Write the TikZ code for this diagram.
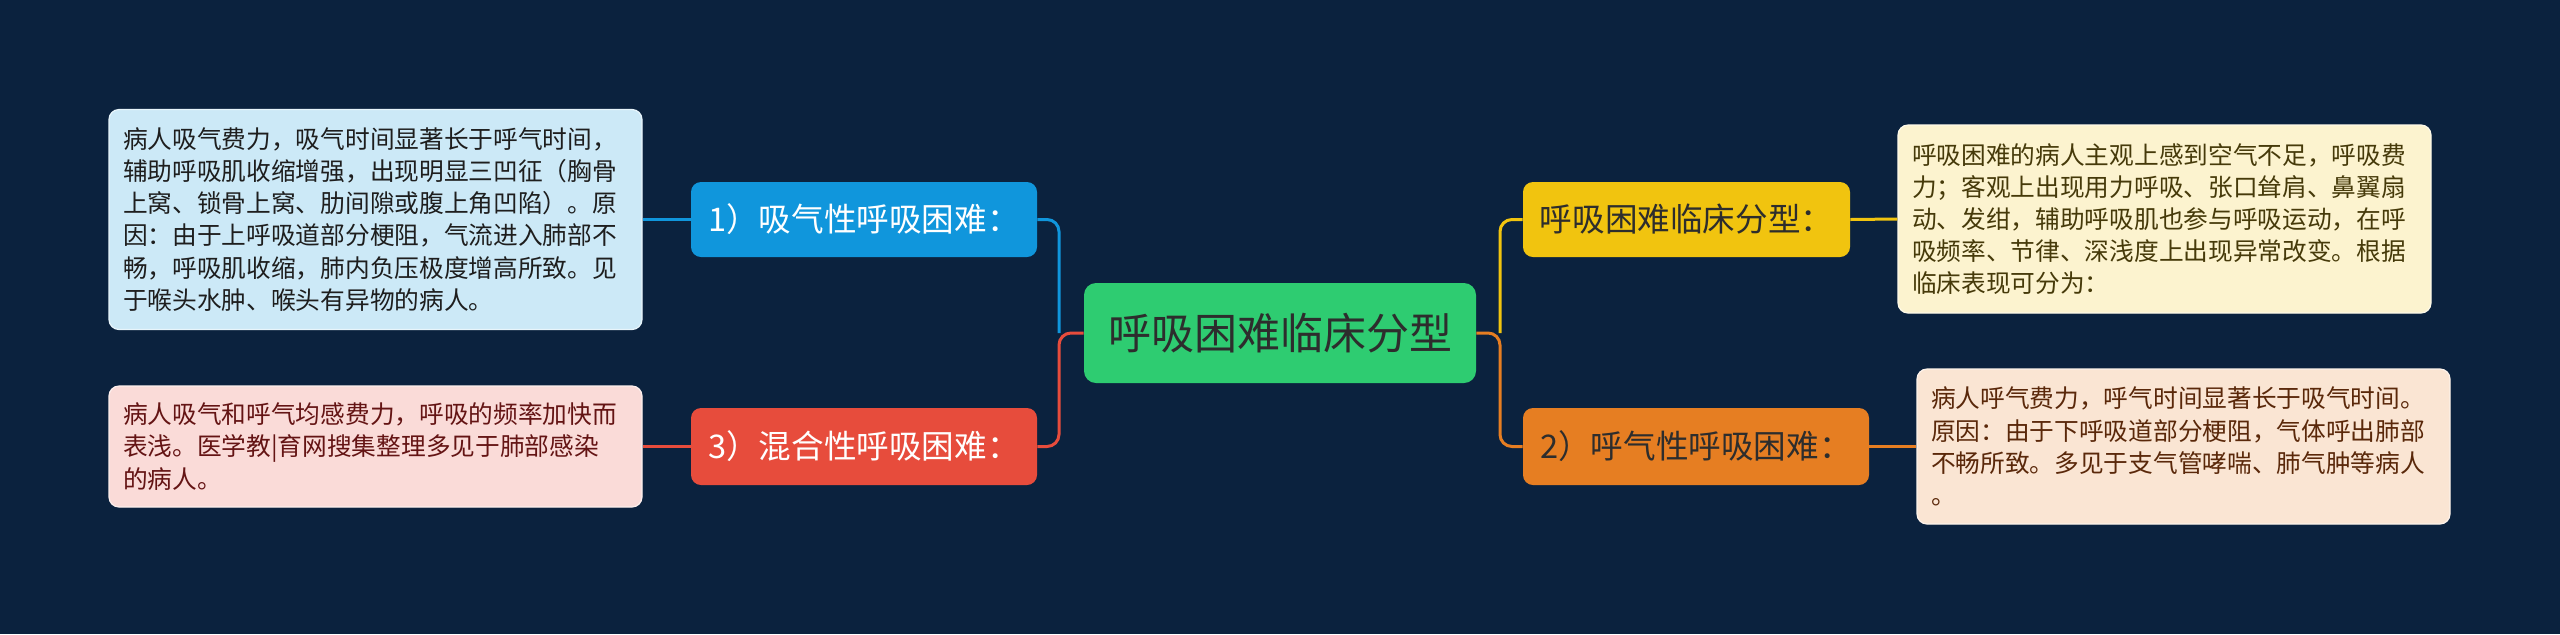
\documentclass[tikz,border=0pt]{standalone}
\usepackage{fontspec}
\setmainfont{Noto Sans CJK SC}
\definecolor{bg}{RGB}{11,34,62}
\definecolor{cblue}{RGB}{16,150,220}
\definecolor{cred}{RGB}{231,76,60}
\definecolor{cgreen}{RGB}{46,204,113}
\definecolor{cyellow}{RGB}{241,196,15}
\definecolor{corange}{RGB}{230,126,34}
\definecolor{fblue}{RGB}{204,233,247}
\definecolor{fred}{RGB}{250,219,216}
\definecolor{fyellow}{RGB}{252,243,207}
\definecolor{forange}{RGB}{250,229,211}
\definecolor{tblue}{RGB}{30,30,30}
\definecolor{tred}{RGB}{100,20,20}
\definecolor{tyellow}{RGB}{70,58,10}
\definecolor{torange}{RGB}{90,40,10}
\definecolor{tdark}{RGB}{45,45,45}
\tikzset{
  lab/.style={rounded corners=5pt, inner sep=0pt, minimum height=37.5pt, align=center,
    font=\fontsize{16.3}{20}\selectfont},
  root/.style={rounded corners=6pt, inner sep=0pt, minimum width=196pt, minimum height=50pt,
    fill=cgreen, text=tdark, font=\fontsize{21.5}{26}\selectfont},
  tbox/.style={rounded corners=5pt, inner xsep=7pt, inner ysep=0pt, text width=252.5pt,
    align=left, line width=0.6pt, font=\fontsize{12.35}{16.1}\selectfont},
  conn/.style={line width=1.5pt, rounded corners=6pt}
}
\begin{document}
\begin{tikzpicture}[x=0.5pt,y=-0.5pt]
\fill[bg] (0,0) rectangle (2560,634);
\useasboundingbox (0,0) rectangle (2560,634);

% coordinates
\coordinate (jL) at (1059,333);
\coordinate (jR) at (1500,333);

% nodes
\node[root] (root) at (1280,333) {呼吸困难临床分型};
\node[lab, fill=cblue, text=white, minimum width=173pt] (n1) at (864,219.5) {1）吸气性呼吸困难：};
\node[lab, fill=cred, text=white, minimum width=173pt, minimum height=38.5pt] (n3) at (864,446.5) {3）混合性呼吸困难：};
\node[lab, fill=cyellow, text=tdark, minimum width=163.5pt] (n0) at (1686.5,219.5) {呼吸困难临床分型：};
\node[lab, fill=corange, text=tdark, minimum width=173pt, minimum height=38.5pt] (n2) at (1696,446.5) {2）呼气性呼吸困难：};

\node[tbox, fill=fblue, draw=white!55!fblue, text=tblue, minimum height=110pt] (t1) at (375.5,219.5)
 {病人吸气费力，吸气时间显著长于呼气时间，\\辅助呼吸肌收缩增强，出现明显三凹征（胸骨\\上窝、锁骨上窝、肋间隙或腹上角凹陷）。原\\因：由于上呼吸道部分梗阻，气流进入肺部不\\畅，呼吸肌收缩，肺内负压极度增高所致。见\\于喉头水肿、喉头有异物的病人。};
\node[tbox, fill=fred, draw=white!55!fred, text=tred, minimum height=60.5pt] (t3) at (375.5,446.5)
 {病人吸气和呼气均感费力，呼吸的频率加快而\\表浅。医学教|育网搜集整理多见于肺部感染\\的病人。};
\node[tbox, fill=fyellow, draw=white!55!fyellow, text=tyellow, minimum height=94pt] (t0) at (2164.5,219)
 {呼吸困难的病人主观上感到空气不足，呼吸费\\力；客观上出现用力呼吸、张口耸肩、鼻翼扇\\动、发绀，辅助呼吸肌也参与呼吸运动，在呼\\吸频率、节律、深浅度上出现异常改变。根据\\临床表现可分为：};
\node[tbox, fill=forange, draw=white!55!forange, text=torange, minimum height=77.5pt] (t2) at (2183.5,446.5)
 {病人呼气费力，呼气时间显著长于吸气时间。\\原因：由于下呼吸道部分梗阻，气体呼出肺部\\不畅所致。多见于支气管哮喘、肺气肿等病人\\。};

% connectors
\begin{scope}[on background layer/.style={}]
\end{scope}
\draw[conn, cblue] (n1.east) -| (jL);
\draw[conn, cred] (n3.east) -| (jL) -- (root.west);
\draw[conn, cyellow] (jR) |- (n0.west);
\draw[conn, corange] (root.east) -- (jR) |- (n2.west);
\draw[conn, cblue] (t1.east) -- (n1.west);
\draw[conn, cred] (t3.east) -- (n3.west);
\draw[conn, cyellow] (n0.east) -- (t0.west);
\draw[conn, corange] (n2.east) -- (t2.west);
\end{tikzpicture}
\end{document}
